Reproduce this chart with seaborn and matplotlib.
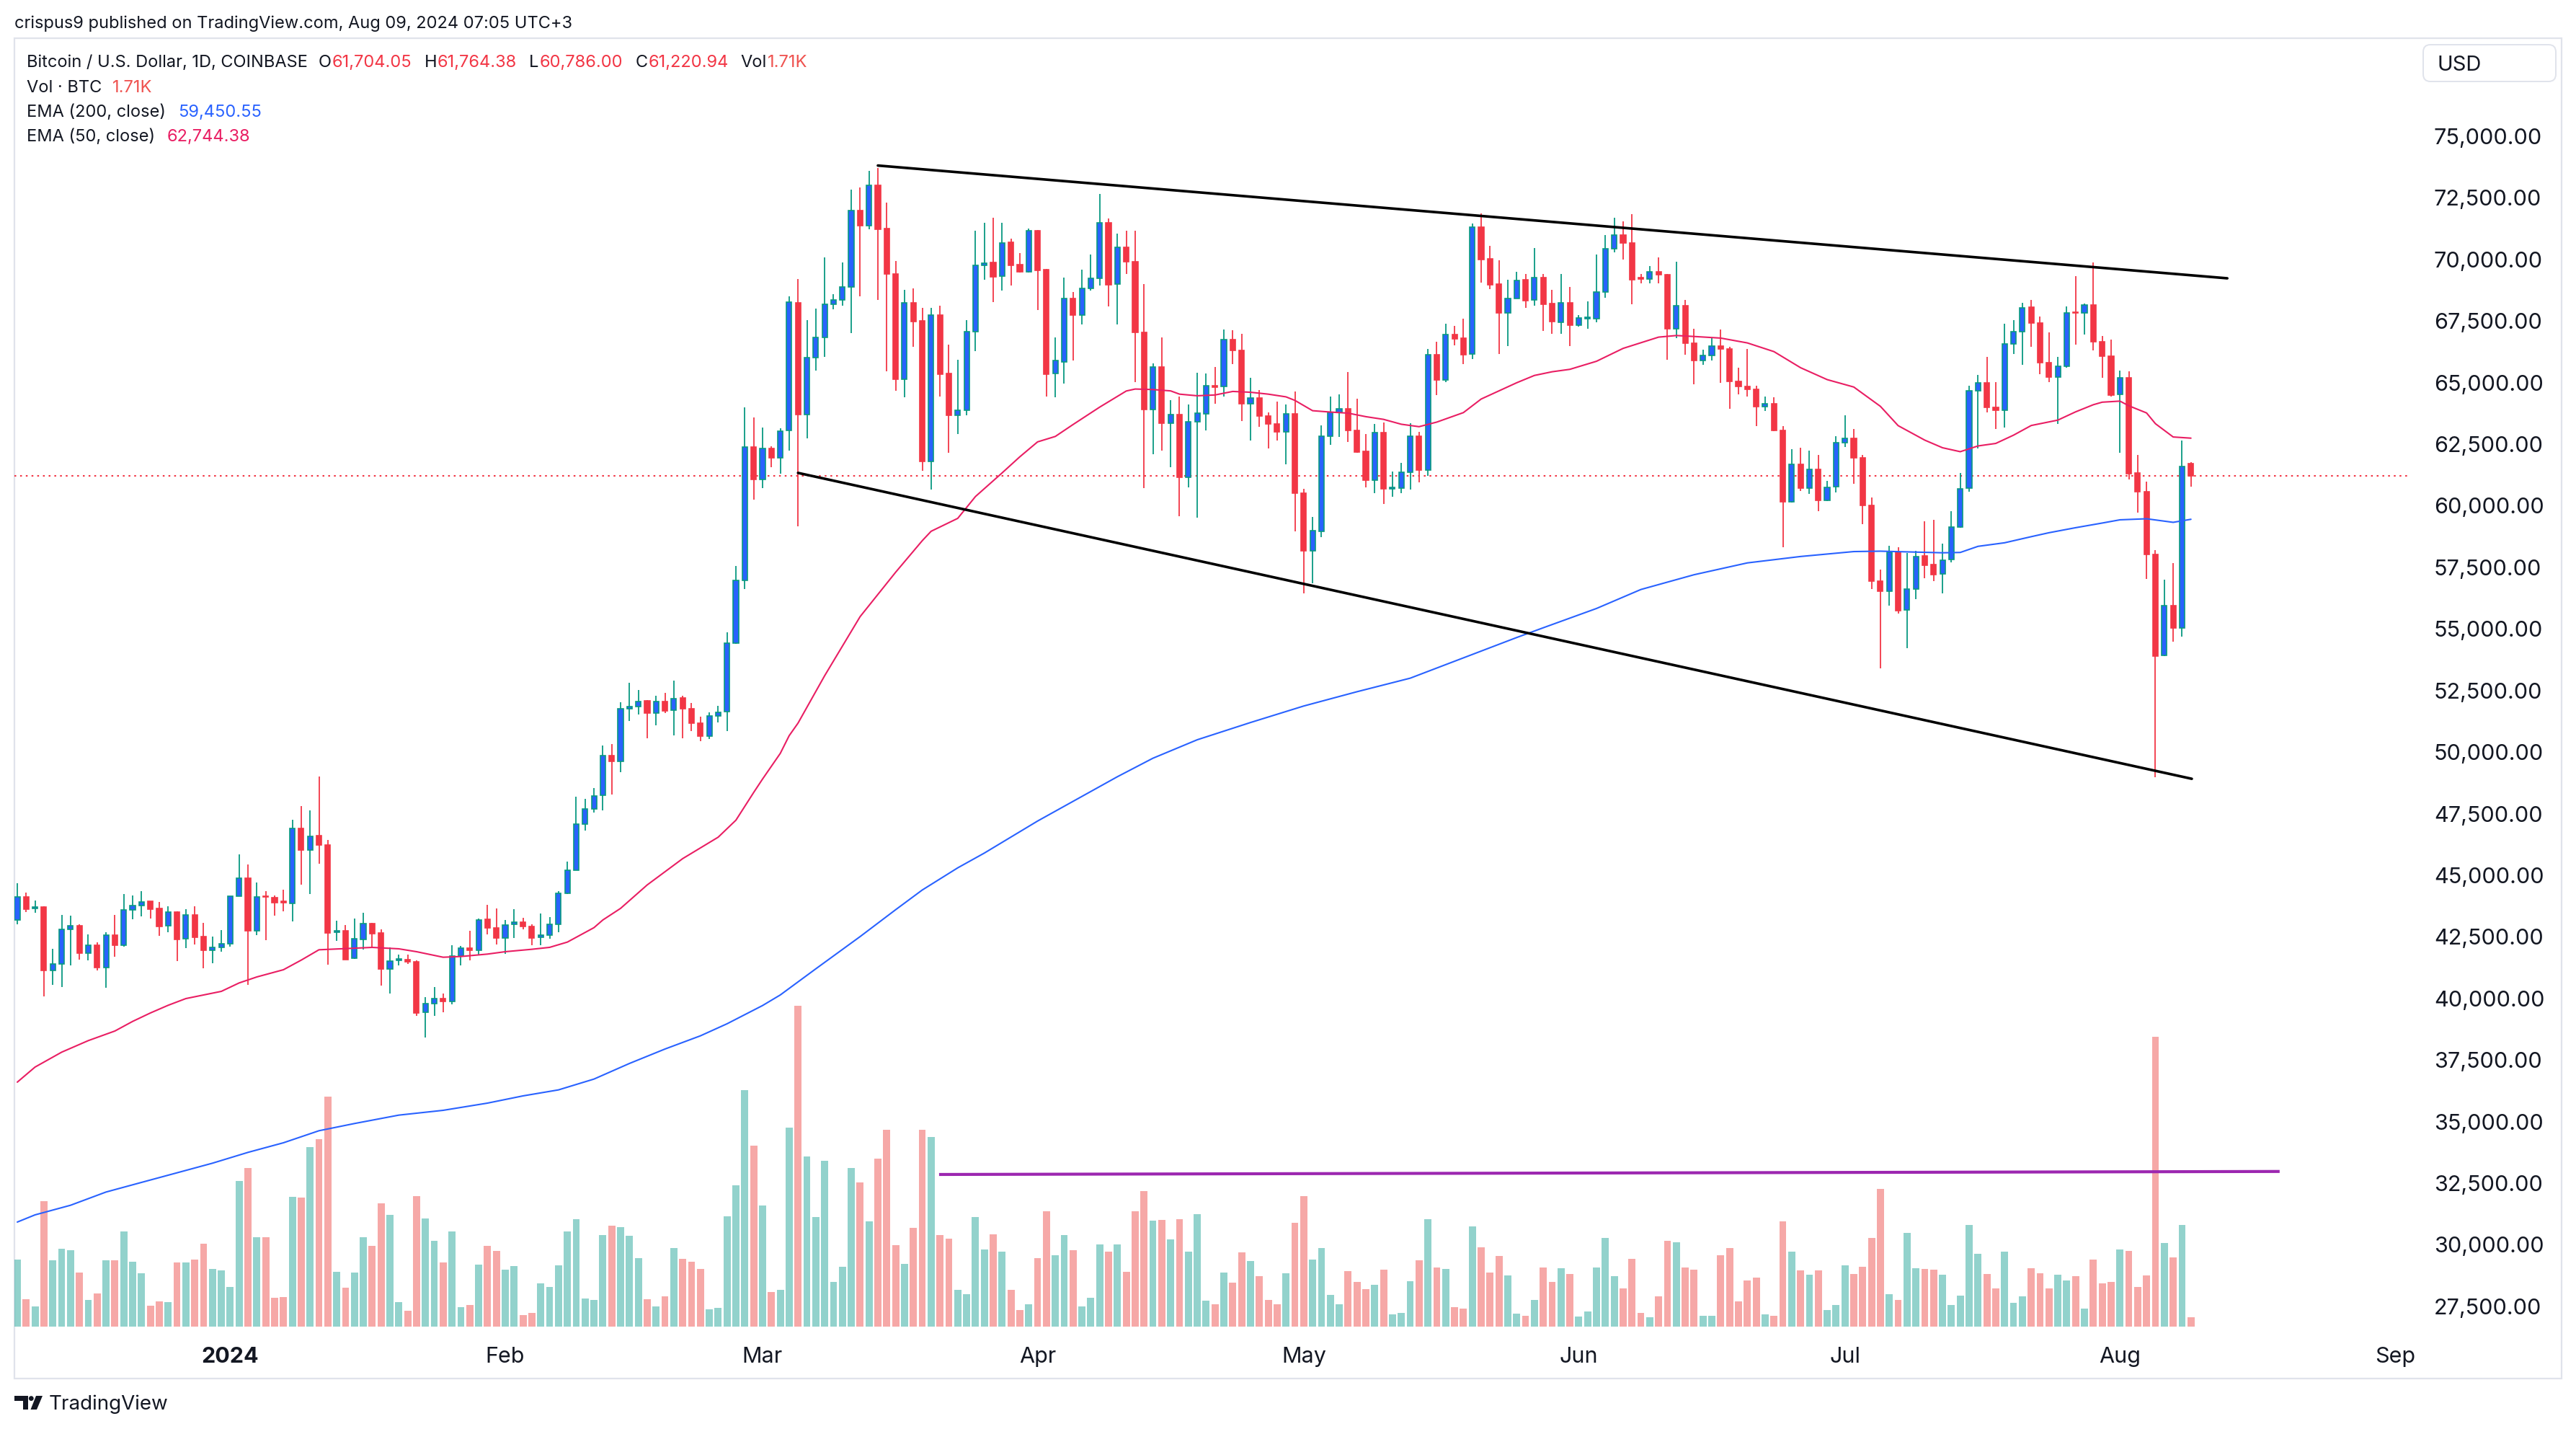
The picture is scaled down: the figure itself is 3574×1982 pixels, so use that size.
import numpy as np
import pandas as pd
import matplotlib
matplotlib.use("Agg")
import matplotlib.pyplot as plt
import seaborn as sns
from matplotlib.patches import Rectangle, FancyBboxPatch, Polygon, Circle

sns.set_theme(style="white")
plt.rcParams['font.family'] = ['Inter', 'DejaVu Sans']

# ---------------- data ----------------
START = pd.Timestamp("2023-12-08")

opens = [43193,44120,43652,43711,41144,41388,42793,42949,41847,42149,
         41261,42559,42169,43584,43779,43935,43652,42940,43505,42432,
         43379,42510,41964,42061,42208,44140,44871,42754,44149,44081,
         43945,43867,46891,46013,46608,46237,42676,42744,41622,42383,
         43037,42647,41203,41554,41574,41486,39427,39779,39984,39866,
         41730,42042,41945,43203,42862,42442,43001,43086,42920,42481,
         42569,43001,44257,45213,47071,47679,48237,49847,49617,51752,
         51834,52081,51572,52048,51703,52196,51752,51177,50635,51474,
         51654,54429,56975,62395,61065,62313,61936,63053,68226,63691,
         66009,66826,68166,68368,68892,71996,71361,73004,71240,69396,
         65143,68227,67501,61786,67733,65364,63681,63883,67078,69769,
         69870,69315,70686,69779,69497,71180,69577,65364,65848,68408,
         67733,68811,69225,71492,68993,70505,69900,67027,63903,65646,
         63342,63694,61161,63397,63727,64861,64839,66733,66293,64134,
         64366,63639,63320,62989,63727,60512,58166,58959,62813,63782,
         63925,63044,62207,61051,62956,60699,60721,61360,62813,61437,
         66117,65103,66943,66810,66150,71303,70026,68991,67824,68429,
         69167,68352,69255,68200,67460,68244,67329,67604,67604,68675,
         70439,71001,70661,69263,69198,69498,69394,67199,68126,66611,
         65892,66101,66493,66362,65043,64846,64729,64036,64128,63056,
         60156,61684,60704,61488,60221,60770,62560,62730,61946,60025,
         56941,56523,58117,55765,56614,57961,57608,57241,57812,59123,
         60710,64656,64976,63986,63884,66578,67058,68063,67422,65806,
         65238,65675,67859,67815,68150,66651,66068,64510,65195,61336,
         60565,58017,53940,55949,55046,61704.05]
highs = [44676,44286,43964,43730,42013,43388,43359,43018,42598,42266,
         42676,43388,44237,44179,44354,43935,43915,43740,43535,43622,
         43740,43066,42510,42774,44159,45847,45437,44706,44354,44179,
         44413,47252,47808,47633,49008,46423,43154,42979,43242,43476,
         43066,42793,42061,41769,41779,41554,40042,40462,40189,42159,
         42120,42745,43242,43798,43652,43174,43623,43272,43001,43447,
         43291,44345,45555,48200,48089,48533,50274,50323,52032,52820,
         52524,52114,52294,52409,52902,52294,51982,51424,51621,51867,
         54873,57550,63989,63578,63167,62412,63135,68506,69212,67531,
         68005,70071,68580,69870,72823,72913,73599,73700,72299,69940,
         68761,68821,68035,68035,68126,66544,65919,67531,71160,71482,
         71684,71502,70837,70253,71260,71200,69618,66826,69265,68670,
         69577,70202,72651,71664,71039,71180,71160,68993,65767,66832,
         64278,64421,64112,65401,65368,65632,67163,67119,66976,65192,
         64685,63782,64223,64112,64641,60699,59542,63265,64421,64520,
         65434,64333,62901,63309,63386,61381,61745,63342,62989,66359,
         66645,67383,67306,67581,71457,71854,70555,69971,69178,69486,
         69398,70477,69420,68760,69420,68897,67734,68283,70204,70988,
         71681,71550,71851,69420,69721,70073,69420,69917,68349,67199,
         66323,66846,67146,66454,65605,66362,64886,64428,64402,63226,
         62298,62364,62233,62076,61005,62834,63684,63122,62076,60338,
         57398,58378,58326,58091,58183,59371,59424,58457,59778,61336,
         64860,65311,66039,65020,67379,67524,68252,68369,67670,67044,
         66039,68107,69315,68209,69883,66898,66753,65486,65457,62064,
         60972,58206,56997,57667,62647,61764.38]
lows = [43018,43515,43486,40091,40549,40461,41349,41583,41554,41144,
        40432,41700,42110,43213,43330,43242,42540,42686,41525,42042,
        42188,41232,41437,41905,42110,44140,40559,42579,42364,43359,
        43535,43135,44628,44247,45476,41379,42344,41560,41600,41974,
        42091,40530,40188,41349,41408,39301,38422,39301,39447,39749,
        41330,41554,41750,42608,42189,41798,42462,42794,42169,42169,
        42432,42696,44230,45200,46825,47531,47646,48270,49173,51276,
        51523,50570,51095,51588,50685,50553,50849,50438,50520,51210,
        50849,54400,56630,60260,60704,61558,61311,62231,59176,62744,
        65495,66050,67965,68136,67017,68509,71230,68358,65465,64679,
        64407,66453,61433,60657,64437,62159,62915,63681,66291,69174,
        68267,68741,68942,69477,69477,67955,64437,64407,64961,65898,
        67360,68741,68942,68106,67360,69416,65032,60728,62089,62240,
        61558,59564,60754,59509,63044,64146,64443,65742,63452,62658,
        63198,62317,62658,61668,58959,56437,56844,58739,62483,62800,
        62604,62152,60754,60512,60060,60368,60500,60644,60941,61227,
        64498,65026,66513,65764,65962,69046,68793,66172,66480,68407,
        68022,68110,67108,66980,66977,66493,67277,67173,67460,68453,
        70282,70008,68192,69041,69041,69041,65931,66807,66127,64925,
        65709,65905,64990,63932,64533,64428,63226,63840,63030,58326,
        60130,60600,60482,59790,60200,60535,62377,60900,59241,56627,
        53413,55935,55635,54210,56196,57072,56954,56457,57696,59100,
        60579,62312,63782,63127,63185,66170,65733,66461,65340,65005,
        63331,65602,66549,66942,66316,65195,64423,62137,61074,59735,
        57041,48989,53882,54493,54682,60786.00]
closes = [44120,43632,43701,41144,41388,42793,42940,41847,42149,41261,
          42559,42169,43584,43779,43925,43632,42920,43496,42403,43379,
          42481,41964,42061,42208,44140,44871,42754,44120,44110,43896,
          43896,46891,46032,46579,46237,42657,42735,41583,42413,43037,
          42637,41203,41525,41603,41476,39408,39779,39984,39866,41730,
          42033,41945,43194,42852,42462,42989,43086,42920,42462,42560,
          43001,44257,45213,47071,47679,48204,49847,49617,51752,51834,
          52065,51572,52048,51670,52179,51752,51177,50635,51457,51621,
          54429,56959,62395,61065,62313,61936,63036,68259,63693,66009,
          66826,68166,68368,68892,71996,71361,73004,71230,69396,65143,
          68227,67481,61786,67733,65344,63681,63883,67078,69769,69849,
          69295,70676,69749,69497,71160,69567,65344,65888,68408,67733,
          68811,69225,71492,68973,70505,69900,67027,63903,65646,63342,
          63694,61161,63397,63749,64861,64817,66733,66293,64134,64366,
          63639,63320,62989,63727,60512,58166,58992,62813,63782,63925,
          63044,62185,61051,62956,60677,60754,61349,62813,61437,66117,
          65103,66943,66788,66128,71303,70004,68980,67824,68429,69156,
          68341,69255,68187,67465,68244,67329,67630,67656,68675,70439,
          71001,70661,69172,69211,69498,69368,67199,68126,66611,65892,
          66088,66480,66362,65043,64846,64729,64010,64128,63056,60156,
          61684,60704,61488,60221,60744,62560,62730,61946,60025,56941,
          56523,58117,55739,56614,57934,57595,57215,57803,59123,60681,
          64656,64976,63986,63884,66578,67058,68034,67422,65806,65238,
          65675,67815,67815,68150,66651,66068,64496,65195,61307,60565,
          58017,53911,55949,55046,61598,61220.94]
volume_k = [12.23,5.00,3.68,22.88,12.10,14.20,13.94,9.86,4.87,6.05,
            12.10,12.10,17.36,11.83,9.73,3.81,4.60,4.47,11.70,11.70,
            12.23,15.12,10.52,10.26,7.23,26.56,28.93,16.30,16.30,5.26,
            5.39,23.67,23.54,32.74,34.19,41.95,9.99,7.10,9.86,16.30,
            14.73,22.48,20.38,4.47,2.89,23.80,19.72,15.65,11.70,17.36,
            3.55,3.94,11.31,14.73,13.81,10.39,11.05,2.10,2.50,7.89,
            7.23,11.18,17.36,19.59,5.13,4.87,16.70,18.41,18.15,16.57,
            12.49,5.00,3.68,5.52,14.33,12.36,11.83,10.52,3.16,3.42,
            20.12,25.77,43.13,33.00,22.09,6.31,6.71,36.29,58.51,31.03,
            19.99,30.24,8.15,10.91,28.93,26.30,19.20,30.64,35.90,14.86,
            11.44,18.01,35.90,34.58,16.70,16.04,6.71,5.92,19.99,14.07,
            16.83,13.67,6.71,3.02,4.08,12.49,21.04,13.02,16.70,13.94,
            3.68,5.26,14.99,13.67,14.99,9.99,21.04,24.72,19.33,19.46,
            15.91,19.59,13.67,20.51,4.73,4.08,9.86,8.02,13.54,11.97,
            9.20,4.87,4.08,9.73,18.93,23.80,12.23,14.33,5.79,4.08,
            10.12,8.15,6.84,7.63,10.39,2.24,2.50,8.28,12.10,19.59,
            10.78,10.52,3.55,3.29,18.28,14.46,9.86,12.89,9.34,2.37,
            1.97,4.87,10.78,8.15,10.65,9.60,1.84,2.76,10.78,16.17,
            9.20,6.97,12.36,2.50,1.71,5.52,15.65,15.38,10.78,10.39,
            1.97,1.97,13.02,14.33,4.60,8.42,8.94,2.24,1.97,19.20,
            13.67,10.26,9.47,10.26,3.02,3.94,11.18,9.60,10.91,16.17,
            25.11,5.92,4.87,17.09,10.65,10.52,10.39,9.47,3.94,5.65,
            18.54,13.28,9.60,6.97,13.67,4.34,5.52,10.65,9.73,6.97,
            9.47,8.42,9.20,3.29,12.23,7.89,8.15,14.07,13.81,7.23,
            9.34,52.86,15.25,12.62,18.54,1.71]

# EMA samples (day offset from START, value)
ema50_day = [0,2,5,8,11,13,15,17,19,23,25,27,30,32,34,37,40,43,45,48,
             50,53,55,58,60,62,65,66,68,71,75,79,81,83,84,86,87,88,91,95,
             99,102,103,106,108,111,113,115,117,119,122,125,126,128,130,131,133,135,137,139,
             141,143,144,146,148,150,152,154,156,158,160,163,165,167,169,171,173,175,178,181,
             185,187,189,192,195,198,201,204,207,210,212,215,217,219,221,223,225,227,230,232,
             234,235,237,238,240,241,243,245]
ema50_val = [36600,37212,37817,38286,38676,39066,39408,39720,39993,40286,
             40627,40871,41164,41554,41974,42022,42071,42013,41896,41671,
             41701,41799,41896,41994,42072,42286,42872,43184,43655,44607,
             45675,46545,47235,48360,48905,49947,50665,51176,53100,55500,
             57300,58581,58964,59488,60375,61333,61988,62593,62814,63298,
             64004,64659,64739,64718,64663,64531,64465,64498,64641,64608,
             64531,64421,64278,63859,63804,63760,63617,63507,63309,63210,
             63397,63782,64333,64663,64993,65290,65440,65539,65866,66389,
             66846,66911,66872,66807,66611,66258,65605,65121,64820,64036,
             63252,62664,62355,62195,62428,62530,62865,63258,63477,63812,
             64102,64205,64248,64059,63768,63331,62792,62744.38]
ema200_day = [0,2,6,10,14,19,22,26,30,34,38,43,48,53,57,61,65,69,73,77,
              80,84,86,90,95,99,102,106,109,112,115,120,124,128,133,139,145,151,157,161,
              165,169,172,178,183,189,195,201,207,210,217,219,221,224,227,229,232,235,237,240,
              243,245]
ema200_val = [30920,31212,31602,32139,32530,33017,33310,33749,34139,34627,
              34920,35261,35456,35749,36042,36286,36725,37359,37944,38481,
              38970,39710,40140,41200,42510,43600,44400,45300,45900,46550,
              47200,48200,49000,49750,50500,51200,51870,52450,53000,53550,
              54100,54650,55047,55830,56600,57200,57680,57940,58140,58156,
              58091,58104,58352,58497,58745,58905,59109,59298,59429,59472,
              59327,59450.55]

# drawn trend lines (day offset, value)
upper_day, upper_price = [97, 249.1], [73812, 69234]
lower_day, lower_price = [88, 245.1], [61334, 48915]
vol_line_day, vol_line_k = [103.9, 255], [27.75, 28.3]
last_price = 61220.94

month_dates = ["2024-01-01", "2024-02-01", "2024-03-01", "2024-04-01", "2024-05-01",
               "2024-06-01", "2024-07-01", "2024-08-01", "2024-09-01"]
month_labels = ["2024", "Feb", "Mar", "Apr", "May", "Jun", "Jul", "Aug", "Sep"]
price_ticks = np.arange(27500, 75001, 2500)

# ---------------- figure ----------------
W, H = 3574, 1982
fig = plt.figure(figsize=(W / 100, H / 100), dpi=100)
fig.patch.set_facecolor("white")

L_, R_, T_, B_ = 20, 3345, 53, 1840
rect = [L_ / W, 1 - B_ / H, (R_ - L_) / W, (B_ - T_) / H]
XLIM = (-0.325, 269.8)

UP_BODY, UP_EDGE, DOWN = "#2962FF", "#089981", "#F23645"
TXT = "#131722"

df = pd.DataFrame(dict(day=np.arange(len(opens)), o=opens, h=highs, l=lows,
                       c=closes, v=volume_k))
df["up"] = df.c >= df.o

# volume pane (behind)
vax = fig.add_axes(rect)
vax.set_zorder(1)
vax.set_xlim(*XLIM)
vax.set_ylim(0, (B_ - T_) * 0.1315)
vax.bar(df.day[df.up], df.v[df.up], width=0.8, color="#26A69A", alpha=0.5, linewidth=0)
vax.bar(df.day[~df.up], df.v[~df.up], width=0.8, color="#EF5350", alpha=0.5, linewidth=0)
vax.plot(vol_line_day, vol_line_k, color="#9C27B0", lw=3.0, solid_capstyle="butt")
vax.axis("off")

# price pane
ax = fig.add_axes(rect)
ax.set_zorder(2)
ax.patch.set_visible(False)
ax.set_xlim(*XLIM)
ax.set_ylim(26675, 78981)

ax.axhline(last_price, color=DOWN, lw=1.5, ls=(0, (1.2, 2.6)), zorder=1)

up = df.up.values
d = df.day.values
o, h, l, c = df.o.values, df.h.values, df.l.values, df.c.values
body = c - o
body = np.where(np.abs(body) < 40, np.where(up, 40, -40), body)

ax.vlines(d[up], l[up], h[up], color=UP_EDGE, lw=1.3, zorder=2)
ax.vlines(d[~up], l[~up], h[~up], color=DOWN, lw=1.3, zorder=2)
ax.bar(d[up], body[up], bottom=o[up], width=0.58, color=UP_BODY,
       edgecolor=UP_EDGE, linewidth=1.2, zorder=3)
ax.bar(d[~up], body[~up], bottom=o[~up], width=0.58, color=DOWN,
       edgecolor=DOWN, linewidth=1.2, zorder=3)

sns.lineplot(x=ema200_day, y=ema200_val, ax=ax, color="#2962FF", linewidth=1.5,
             estimator=None, sort=False, zorder=4)
sns.lineplot(x=ema50_day, y=ema50_val, ax=ax, color="#E91E63", linewidth=1.5,
             estimator=None, sort=False, zorder=4)

ax.plot(upper_day, upper_price, color="black", lw=2.6, zorder=5)
ax.plot(lower_day, lower_price, color="black", lw=2.6, zorder=5)

for s in ax.spines.values():
    s.set_visible(False)
ax.grid(False)

ax.yaxis.tick_right()
ax.set_yticks(price_ticks)
ax.set_yticklabels([f"{v:,.2f}" for v in price_ticks])
ax.tick_params(axis="y", length=0, pad=23, labelsize=22, labelcolor=TXT)

mticks = (pd.to_datetime(month_dates) - START).days.values
ax.set_xticks(mticks)
ax.set_xticklabels(month_labels)
ax.tick_params(axis="x", length=0, pad=20, labelsize=22, labelcolor=TXT)
ax.get_xticklabels()[0].set_fontweight("bold")
ax.set_xlabel("")
ax.set_ylabel("")

# ---------------- frame & annotations ----------------
ov = fig.add_axes([0, 0, 1, 1])
ov.set_zorder(0)
ov.set_xlim(0, W)
ov.set_ylim(H, 0)
ov.axis("off")
ov.add_patch(Rectangle((20, 53), 3554 - 20, 1912 - 53, fill=False,
                       edgecolor="#E0E3EB", lw=1.6))
ov.add_patch(FancyBboxPatch((3362, 62), 3546 - 3362, 113 - 62,
                            boxstyle="round,pad=0,rounding_size=10",
                            fill=False, edgecolor="#E0E3EB", lw=1.4))
ov.text(3382, 98, "USD", fontsize=21, color=TXT, va="baseline", ha="left")

# TradingView logo
ov.add_patch(Polygon([(20, 1936), (39.3, 1936), (39.3, 1955), (31.7, 1955),
                      (31.7, 1942.7), (20, 1942.7)], closed=True, color=TXT, lw=0))
ov.add_patch(Circle((43.3, 1939.6), 3.4, color=TXT, lw=0))
ov.add_patch(Polygon([(50, 1936), (59, 1936), (51, 1955), (42.5, 1955)],
                     closed=True, color=TXT, lw=0))
ov.text(68, 1955, "TradingView", fontsize=20, color=TXT, va="baseline", ha="left")

fig.text(20 / W, 1 - 39 / H, "crispus9 published on TradingView.com, Aug 09, 2024 07:05 UTC+3",
         fontsize=17, color=TXT, va="baseline", ha="left")

fig.canvas.draw()
rend = fig.canvas.get_renderer()


def chain(x, y, parts):
    for txt, col, gap in parts:
        t = fig.text(x / W, 1 - y / H, txt, fontsize=17, color=col,
                     va="baseline", ha="left")
        bb = t.get_window_extent(renderer=rend)
        x = bb.x1 + gap


RED = "#F23645"
chain(37, 93, [("Bitcoin / U.S. Dollar, 1D, COINBASE", TXT, 15),
               ("O", TXT, 1), ("61,704.05", RED, 17),
               ("H", TXT, 1), ("61,764.38", RED, 17),
               ("L", TXT, 1), ("60,786.00", RED, 17),
               ("C", TXT, 1), ("61,220.94", RED, 17),
               ("Vol", TXT, 1), ("1.71K", "#EF5350", 0)])
chain(37, 128, [("Vol · BTC", TXT, 15), ("1.71K", "#EF5350", 0)])
chain(37, 162, [("EMA (200, close)", TXT, 17), ("59,450.55", "#2962FF", 0)])
chain(37, 196, [("EMA (50, close)", TXT, 17), ("62,744.38", "#E91E63", 0)])

fig.savefig("out.png", dpi=100, facecolor="white")
